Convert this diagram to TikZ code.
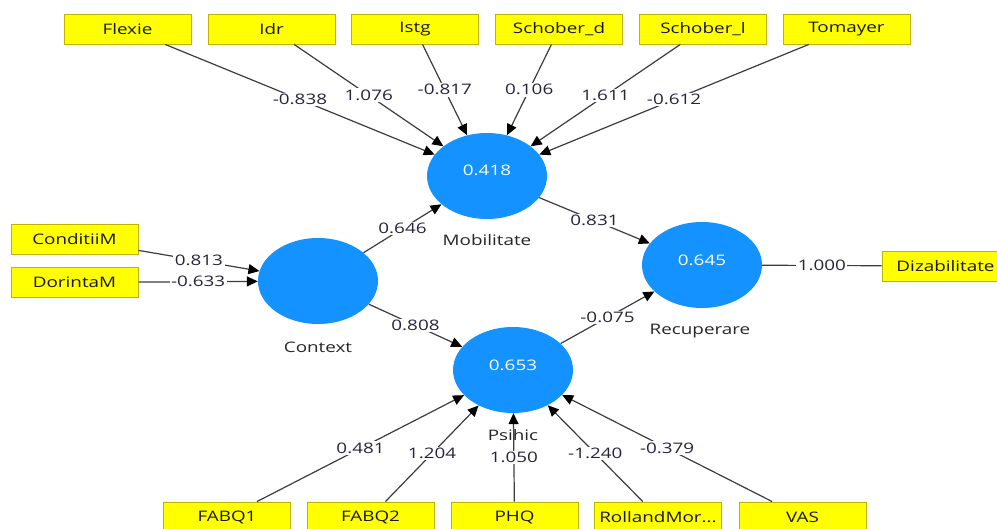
\documentclass[tikz,border=0pt]{standalone}
\usepackage{fontspec}
\setmainfont{Open Sans}[FakeStretch=1.3]
\usetikzlibrary{shapes.geometric,arrows.meta}
\definecolor{boxyellow}{RGB}{255,255,0}
\definecolor{boxborder}{RGB}{190,180,0}
\definecolor{lvblue}{RGB}{20,146,255}
\definecolor{edgegray}{RGB}{60,60,60}
\definecolor{labelcol}{RGB}{40,35,60}
\begin{document}
\begin{tikzpicture}[x=1pt,y=-1pt,
  ind/.style={draw=boxborder, fill=boxyellow, line width=0.9pt, minimum width=127pt, minimum height=30pt, inner sep=0pt, font=\fontsize{14.5}{16}\selectfont, text=black!90},
  lv/.style={ellipse, fill=lvblue, minimum width=120pt, minimum height=86pt, inner sep=0pt},
  lvval/.style={text=white, font=\fontsize{14.5}{16}\selectfont, inner sep=0pt},
  lvname/.style={text=black!85, font=\fontsize{14.5}{16}\selectfont, inner sep=0pt},
  conn/.style={draw=edgegray, line width=1.2pt},
  arr/.style={conn, -{Triangle[length=11pt,width=10pt,color=black]}},
  wlab/.style={fill=white, inner sep=1.5pt, text=labelcol, font=\fontsize{14.5}{16}\selectfont},
]
\useasboundingbox (0,0) rectangle (997,529);
\clip (0,0) rectangle (997,529);

% latent variables
\node[lv] (mob) at (487,176) {};
\node[lv] (ctx) at (318,281) {};
\node[lv] (psi) at (513,370) {};
\node[lv] (rec) at (702,265) {};

% indicators top
\node[ind] (flexie) at (127.5,29) {Flexie};
\node[ind] (idr) at (271.5,29) {Idr};
\node[ind] (istg) at (415,29) {Istg};
\node[ind] (schd) at (559,29) {Schober\_d};
\node[ind] (schl) at (703,29) {Schober\_l};
\node[ind] (tom) at (846.5,29) {Tomayer};
% left
\node[ind] (cond) at (74.5,239.5) {ConditiiM};
\node[ind] (dor) at (74.5,282.5) {DorintaM};
% right
\node[ind] (diz) at (945.5,266) {Dizabilitate};
% bottom
\node[ind] (fabq1) at (227,517) {FABQ1};
\node[ind] (fabq2) at (370.5,517) {FABQ2};
\node[ind] (phq) at (514.5,517) {PHQ};
\node[ind] (roll) at (658,517) {RollandMor...};
\node[ind] (vas) at (802.5,517) {VAS};

% measurement edges
\draw[arr] (flexie) -- node[wlab]{-0.838} (mob);
\draw[arr] (idr) -- node[wlab]{1.076} (mob);
\draw[arr] (istg) -- node[wlab]{-0.817} (mob);
\draw[arr] (schd) -- node[wlab]{0.106} (mob);
\draw[arr] (schl) -- node[wlab]{1.611} (mob);
\draw[arr] (tom) -- node[wlab]{-0.612} (mob);
\draw[arr] (cond) -- node[wlab]{0.813} (ctx);
\draw[arr] (dor) -- node[wlab]{-0.633} (ctx);
\draw[conn] (rec) -- node[wlab]{1.000} (diz);
\draw[arr] (fabq1) -- node[wlab]{0.481} (psi);
\draw[arr] (fabq2) -- node[wlab]{1.204} (psi);
\draw[arr] (phq) -- node[wlab]{1.050} (psi);
\draw[arr] (roll) -- node[wlab]{-1.240} (psi);
\draw[arr] (vas) -- node[wlab]{-0.379} (psi);

% structural edges
\draw[arr] (ctx) -- node[wlab]{0.646} (mob);
\draw[arr] (ctx) -- node[wlab]{0.808} (psi);
\draw[arr] (mob) -- node[wlab]{0.831} (rec);
\draw[arr] (psi) -- node[wlab]{-0.075} (rec);

% values
\node[lvval] (vmob) at (487,170) {0.418};
\node[lvval] (vpsi) at (513,365) {0.653};
\node[lvval] (vrec) at (702,260) {0.645};

% names
\node[lvname] (nmob) at (487,240) {Mobilitate};
\node[lvname] (nctx) at (318,347) {Context};
\node[lvname] (npsi) at (513,435) {Psihic};
\node[lvname] (nrec) at (700,331) {Recuperare};
\end{tikzpicture}
\end{document}
